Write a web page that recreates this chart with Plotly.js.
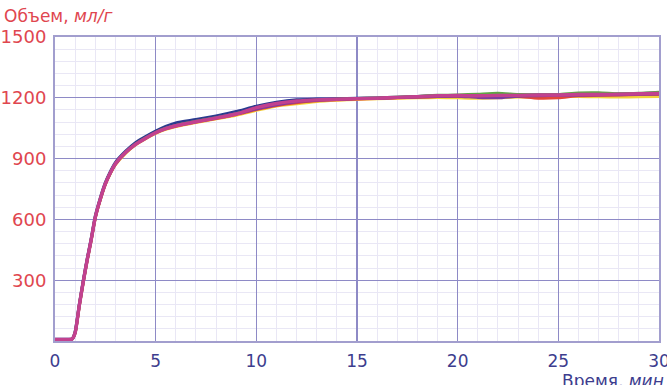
<!DOCTYPE html>
<html>
<head>
<meta charset="utf-8">
<script src="https://cdn.plot.ly/plotly-3.0.1.min.js"></script>
<style>
  html, body { margin: 0; padding: 0; background: #ffffff; }
  #chart { width: 667px; height: 385px; }
</style>
</head>
<body>
<div id="chart"></div>
<script>
// Time, minutes
const time = [0, 0.5, 0.85, 1.0, 1.2, 1.4, 1.6, 1.8, 2.0, 2.25, 2.5, 2.75, 3.0, 3.5, 4.0, 4.5, 5.0, 5.5, 6, 7, 8, 9, 10, 11, 12, 13, 14, 15, 16, 17, 18, 19, 20, 21, 22, 23, 24, 25, 26, 27, 28, 29, 30];

// Specific volume, ml/g, one array per sample
const sampleNavy   = [8, 8, 10, 45, 175, 295, 405, 505, 615, 705, 780, 835, 880, 935, 978, 1008, 1035, 1058, 1075, 1092, 1110, 1132, 1158, 1178, 1190, 1193, 1195, 1197, 1199, 1202, 1206, 1210, 1211, 1210, 1212, 1213, 1214, 1215, 1216, 1217, 1218, 1220, 1224];
const sampleGreen  = [8, 8, 10, 40, 170, 290, 400, 500, 610, 700, 775, 830, 875, 930, 972, 1003, 1030, 1050, 1064, 1084, 1102, 1122, 1146, 1166, 1180, 1189, 1193, 1197, 1199, 1203, 1207, 1212, 1214, 1218, 1222, 1216, 1214, 1216, 1224, 1225, 1220, 1222, 1228];
const sampleYellow = [8, 8, 10, 40, 168, 288, 398, 498, 606, 696, 772, 826, 870, 926, 968, 998, 1024, 1044, 1058, 1078, 1096, 1114, 1138, 1160, 1170, 1182, 1188, 1192, 1195, 1198, 1200, 1202, 1200, 1198, 1200, 1204, 1206, 1208, 1206, 1205, 1204, 1205, 1206];
const sampleRed    = [8, 8, 10, 40, 170, 290, 400, 500, 608, 698, 774, 828, 872, 928, 970, 1000, 1027, 1047, 1060, 1080, 1098, 1118, 1142, 1162, 1176, 1185, 1190, 1194, 1196, 1200, 1203, 1206, 1208, 1207, 1208, 1206, 1198, 1200, 1210, 1212, 1214, 1216, 1218];
const samplePurple = [8, 8, 10, 42, 172, 292, 402, 502, 610, 700, 776, 830, 874, 930, 972, 1002, 1029, 1049, 1063, 1083, 1101, 1121, 1145, 1166, 1181, 1188, 1192, 1196, 1198, 1201, 1204, 1207, 1208, 1202, 1200, 1208, 1210, 1212, 1213, 1214, 1215, 1217, 1219];
const sampleMagenta= [8, 8, 10, 40, 170, 290, 400, 500, 610, 700, 775, 830, 875, 930, 970, 1000, 1028, 1048, 1062, 1082, 1100, 1120, 1152, 1172, 1184, 1190, 1193, 1196, 1198, 1202, 1206, 1210, 1211, 1210, 1212, 1212, 1214, 1214, 1216, 1216, 1218, 1220, 1222];

const xTicks = [0, 5, 10, 15, 20, 25, 30];
const yTicks = [300, 600, 900, 1200, 1500];

const series = [
  { y: sampleNavy,    color: '#2b3a8f', width: 3.2 },
  { y: sampleGreen,   color: '#5fa544', width: 3 },
  { y: sampleYellow,  color: '#f2d23c', width: 3 },
  { y: sampleRed,     color: '#e2483a', width: 3 },
  { y: samplePurple,  color: '#7d3c9e', width: 3 },
  { y: sampleMagenta, color: '#c2418f', width: 3.4 }
];

const traces = series.map(s => ({
  x: time,
  y: s.y,
  type: 'scatter',
  mode: 'lines',
  line: { color: s.color, width: s.width, shape: 'spline', smoothing: 0.6 },
  hoverinfo: 'skip',
  showlegend: false
}));

const axisLine = '#a29ece';
const majorGrid = '#8e8ac6';
const minorGrid = '#e9e7f5';

const layout = {
  width: 667,
  height: 385,
  margin: { l: 55, r: 8, t: 37, b: 44 },
  paper_bgcolor: '#ffffff',
  plot_bgcolor: '#ffffff',
  showlegend: false,
  font: { family: 'DejaVu Sans, Arial, sans-serif' },
  xaxis: {
    range: [0, 30],
    tickvals: xTicks,
    ticktext: xTicks.map(String),
    showgrid: true,
    gridcolor: majorGrid,
    gridwidth: 1.2,
    zeroline: false,
    showline: true,
    linecolor: axisLine,
    linewidth: 2,
    mirror: true,
    ticks: '',
    ticklabelstandoff: 4,
    ticklabeloverflow: 'allow',
    automargin: false,
    tickfont: { family: 'DejaVu Sans, Arial, sans-serif', size: 17, color: '#3d3d8e' },
    minor: { dtick: 1, showgrid: true, gridcolor: minorGrid, gridwidth: 1 }
  },
  yaxis: {
    range: [0, 1500],
    tickvals: yTicks,
    ticktext: yTicks.map(String),
    showgrid: true,
    gridcolor: majorGrid,
    gridwidth: 1.2,
    zeroline: false,
    showline: true,
    linecolor: axisLine,
    linewidth: 2,
    mirror: true,
    ticks: '',
    ticklabelstandoff: 3,
    ticklabeloverflow: 'allow',
    automargin: false,
    tickfont: { family: 'DejaVu Sans, Arial, sans-serif', size: 18, color: '#e0464f' },
    minor: { dtick: 60, showgrid: true, gridcolor: minorGrid, gridwidth: 1 }
  },
  annotations: [
    {
      text: 'Объем, <i>мл/г</i>',
      xref: 'paper', yref: 'paper',
      x: -0.088, y: 1.108,
      xanchor: 'left', yanchor: 'top',
      showarrow: false,
      font: { family: 'DejaVu Sans, Arial, sans-serif', size: 17, color: '#e0464f' }
    },
    {
      text: 'Время, <i>мин</i>',
      xref: 'paper', yref: 'paper',
      x: 1.011, y: -0.092,
      xanchor: 'right', yanchor: 'top',
      showarrow: false,
      font: { family: 'DejaVu Sans, Arial, sans-serif', size: 17, color: '#3d3d8e' }
    }
  ]
};

Plotly.newPlot('chart', traces, layout, { staticPlot: true, displayModeBar: false });
</script>
</body>
</html>
